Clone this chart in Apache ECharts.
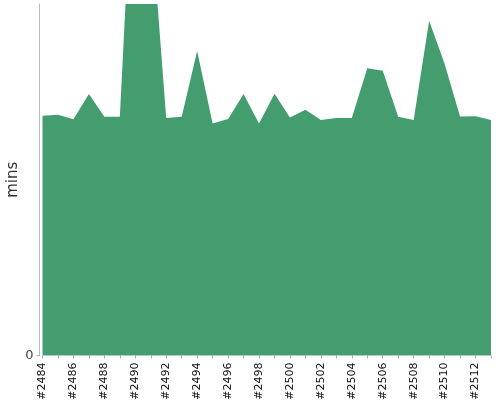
<!DOCTYPE html>
<html>
<head>
<meta charset="utf-8">
<script src="https://cdn.jsdelivr.net/npm/echarts@6/dist/echarts.min.js"></script>
<style>html,body{margin:0;padding:0;background:#fff}#c{width:500px;height:400px}</style>
</head>
<body>
<div id="c"></div>
<script>
const categories = ['#2484','#2485','#2486','#2487','#2488','#2489','#2490','#2491','#2492','#2493','#2494','#2495','#2496','#2497','#2498','#2499','#2500','#2501','#2502','#2503','#2504','#2505','#2506','#2507','#2508','#2509','#2510','#2511','#2512','#2513'];
const mins = [68.2,68.5,67.2,74.4,67.9,67.9,155,125,67.6,67.9,86.6,66.0,67.3,74.4,66.0,74.5,67.7,69.9,67.0,67.6,67.6,81.7,81.0,67.9,67.0,95.2,83.0,68.0,68.1,67.0];
const yTicks = [0];

const chart = echarts.init(document.getElementById('c'), null, {renderer:'canvas'});
chart.setOption({
  animation: false,
  grid: {left: 42.5, right: 9, top: 4, bottom: 44.5, containLabel: false, outerBoundsMode: 'none'},
  xAxis: {
    type: 'category',
    data: categories,
    boundaryGap: false,
    offset: 4,
    axisLine: {show: true, lineStyle: {color: '#ddd', width: 1}},
    axisTick: {show: true, interval: 0, length: 3, lineStyle: {color: '#aaa'}},
    axisLabel: {interval: 1, rotate: 90, margin: 3, fontSize: 11, color: '#111', fontFamily: 'DejaVu Sans'},
    splitLine: {show: false}
  },
  yAxis: {
    type: 'value',
    min: 0,
    max: 100,
    offset: 3,
    name: 'mins',
    nameLocation: 'middle',
    nameGap: 19,
    nameMoveOverlap: false,
    nameTextStyle: {fontSize: 15, color: '#333', fontFamily: 'DejaVu Sans'},
    axisLine: {show: true, lineStyle: {color: '#bbb', width: 1}},
    axisTick: {show: true, length: 3, customValues: yTicks, lineStyle: {color: '#aaa'}},
    axisLabel: {customValues: yTicks, fontSize: 13, color: '#444', margin: 6, fontFamily: 'DejaVu Sans'},
    splitLine: {show: false}
  },
  series: [{
    type: 'line',
    data: mins,
    clip: true,
    symbol: 'none',
    lineStyle: {width: 0},
    areaStyle: {color: '#449d6e', opacity: 1}
  }]
});
</script>
</body>
</html>
